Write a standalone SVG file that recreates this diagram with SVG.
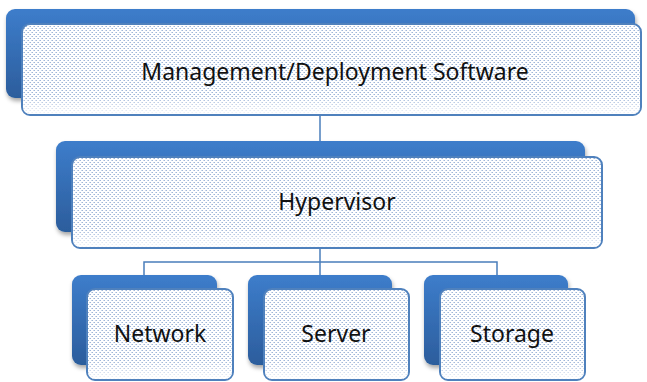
<svg xmlns="http://www.w3.org/2000/svg" width="647" height="382" viewBox="0 0 647 382">
<defs>
<linearGradient id="blueGrad" x1="0" y1="0" x2="0" y2="1">
<stop offset="0" stop-color="#3d7dcb"/>
<stop offset="1" stop-color="#2c5d9c"/>
</linearGradient>
<pattern id="dots" width="4" height="4" patternUnits="userSpaceOnUse">
<rect width="4" height="4" fill="#ffffff"/>
<rect x="0" y="0" width="1" height="1" fill="#9fb6d8"/>
<rect x="2" y="2" width="1" height="1" fill="#9fb6d8"/>
<rect x="1" y="2" width="1" height="1" fill="#c9d6ea"/>
<rect x="3" y="0" width="1" height="1" fill="#c9d6ea"/>
</pattern>
<linearGradient id="fadeV" x1="0" y1="0" x2="0" y2="1">
<stop offset="0.8" stop-color="#fff" stop-opacity="0"/>
<stop offset="1" stop-color="#fff" stop-opacity="0.9"/>
</linearGradient>
<filter id="shadow" x="-10%" y="-10%" width="125%" height="130%">
<feDropShadow dx="1" dy="3" stdDeviation="2" flood-color="#000" flood-opacity="0.35"/>
</filter>
</defs>
<style>
.back{fill:url(#blueGrad);filter:url(#shadow);}
.front{fill:url(#dots);stroke:#4f81bd;stroke-width:2;}
.fade{fill:url(#fadeV);}
.lbl{font-family:"Noto Sans","Open Sans",sans-serif;font-size:23px;fill:#111;text-anchor:middle;}
.conn{fill:none;stroke:#4a7ebb;stroke-width:1.5;}
</style>
<g id="connectors">
<line class="conn" x1="320" y1="112" x2="320" y2="145"/>
<polyline class="conn" points="320,246 320,262"/>
<polyline class="conn" points="144,278 144,262 497,262 497,278"/>
<line class="conn" x1="320" y1="262" x2="320" y2="278"/>
</g>
<g id="management">
<rect class="back" x="6" y="9" width="629" height="89" rx="9"/>
<rect class="front" x="22" y="24" width="619" height="91" rx="8"/>
<rect class="fade" x="23" y="25" width="617" height="89" rx="7"/>
<text class="lbl" x="335" y="80">Management/Deployment Software</text>
</g>
<g id="hypervisor">
<rect class="back" x="56" y="141" width="529" height="91" rx="9"/>
<rect class="front" x="72" y="157" width="530" height="91" rx="8"/>
<rect class="fade" x="73" y="158" width="528" height="89" rx="7"/>
<text class="lbl" x="337" y="210">Hypervisor</text>
</g>
<g id="network">
<rect class="back" x="72" y="275" width="145" height="90" rx="9"/>
<rect class="front" x="87" y="289" width="146" height="91" rx="8"/>
<rect class="fade" x="88" y="290" width="144" height="89" rx="7"/>
<text class="lbl" x="160" y="342">Network</text>
</g>
<g id="server">
<rect class="back" x="248" y="275" width="144" height="90" rx="9"/>
<rect class="front" x="264" y="289" width="145" height="91" rx="8"/>
<rect class="fade" x="265" y="290" width="143" height="89" rx="7"/>
<text class="lbl" x="336" y="342">Server</text>
</g>
<g id="storage">
<rect class="back" x="424" y="275" width="144" height="90" rx="9"/>
<rect class="front" x="440" y="289" width="145" height="91" rx="8"/>
<rect class="fade" x="441" y="290" width="143" height="89" rx="7"/>
<text class="lbl" x="512" y="342">Storage</text>
</g>
</svg>
